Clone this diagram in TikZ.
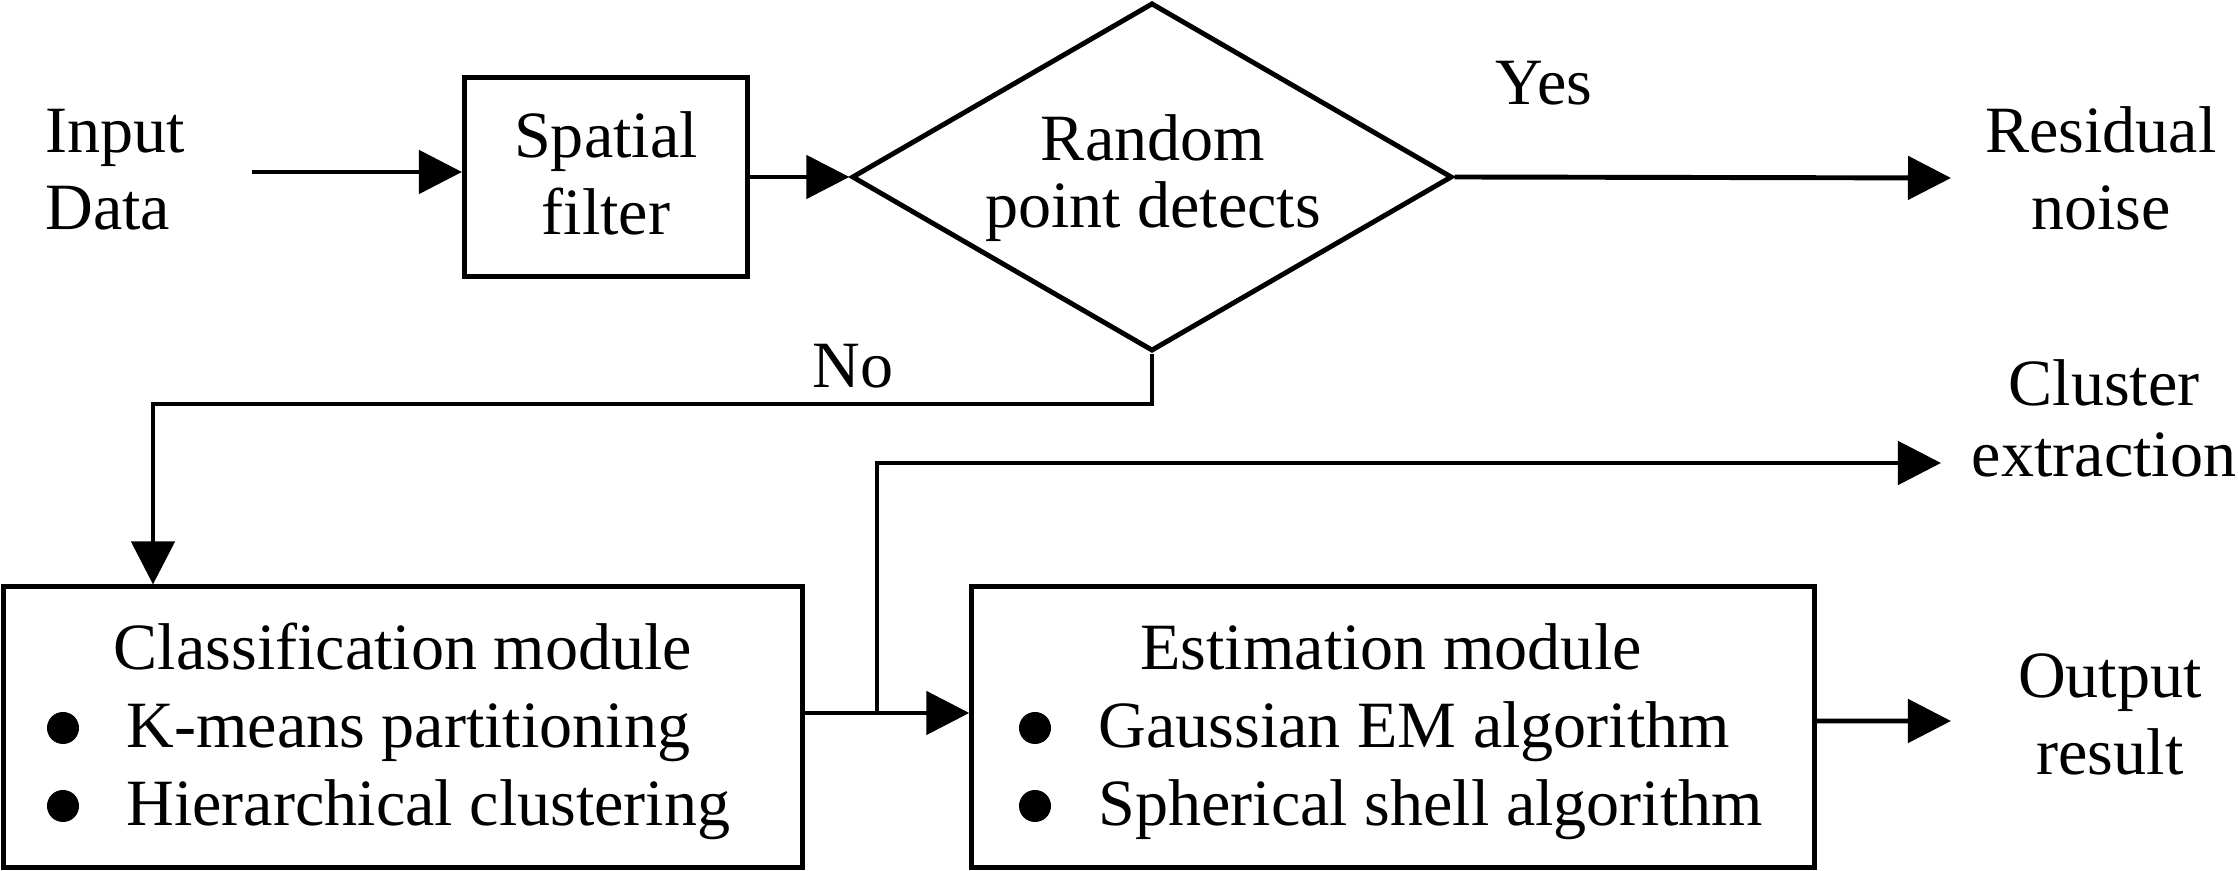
\documentclass[tikz,border=0pt]{standalone}
\usepackage{fontspec}
\setmainfont{Liberation Serif}
\usetikzlibrary{arrows.meta}
\usetikzlibrary{shapes.geometric}
\tikzset{arr/.style = {-{Triangle[length=0.43cm,width=0.43cm]}}}
\tikzset{box/.style = {draw, rectangle, inner sep=0pt}}
\tikzset{txt/.style = {align=center, inner sep=0pt,
                       font=\fontsize{18.8}{22}\selectfont}}
\tikzset{blt/.style = {circle, fill, inner sep=0pt, minimum size=0.32cm}}

\begin{document}
\begin{tikzpicture}[x=0.01cm, y=-0.01cm, line width=1.4pt]
  \useasboundingbox (0,0) rectangle (2238,871);
  % top row
  \node [txt, align=left, anchor=base west] (in) at (43,230) {Input\\Data};
  \node [box, minimum width=2.83cm, minimum height=1.99cm] (sf) at (606,177) {};
  \node [txt, anchor=base] (sftxt) at (606,235) {Spatial\\filter};
  \node [draw, diamond, inner sep=0pt, minimum width=6cm, minimum height=3.48cm] (rpd) at (1152,177) {};
  \node [txt, anchor=base, font=\fontsize{18.8}{19.3}\selectfont] (rpdtxt) at (1153,228) {Random\\point detects};
  \node [txt, anchor=base] (yes) at (1544,105) {Yes};
  \node [txt, anchor=base] (res) at (2101,230) {Residual\\noise};
  \node [txt, anchor=base] (no) at (853,388) {No};
  % modules
  \node [box, minimum width=7.98cm, minimum height=2.8cm] (cls) at (403,727) {};
  \node [txt, anchor=base] (clshead) at (403,670) {Classification module};
  \node [blt] (clsb1) at (63,728) {};
  \node [blt] (clsb2) at (63,806) {};
  \node [txt, anchor=base west] (clsi1) at (124,748) {K-means partitioning};
  \node [txt, anchor=base west] (clsi2) at (124,826) {Hierarchical clustering};
  \node [box, minimum width=8.42cm, minimum height=2.8cm] (est) at (1393,727) {};
  \node [txt, anchor=base] (esthead) at (1391,670) {Estimation module};
  \node [blt] (estb1) at (1035,728) {};
  \node [blt] (estb2) at (1035,806) {};
  \node [txt, anchor=base west] (esti1) at (1096,748) {Gaussian EM algorithm};
  \node [txt, anchor=base west] (esti2) at (1096,826) {Spherical shell algorithm};
  \node [txt, anchor=base, font=\fontsize{18.8}{20.4}\selectfont] (clx) at (2104,477) {Cluster\\extraction};
  \node [txt, anchor=base] (out) at (2110,775) {Output\\result};
  % free ends
  \coordinate (instart) at (252,172);
  \coordinate (restip) at (1951,178);
  \coordinate (nobend) at (153,404);
  \coordinate (br) at (877,713);
  \coordinate (clxtip) at (1941,463);
  \coordinate (outtip) at (1951,721);
  % connectors
  \draw [arr] (instart) -- (instart -| sf.west);
  \draw [arr] (sf.east) -- (rpd.west);
  \draw [arr] (rpd.east) -- (restip);
  \draw [arr] (rpd.south) |- (nobend) -- (nobend |- cls.north);
  \draw [arr] ([yshift=0.14cm]cls.east) -- ([yshift=0.14cm]est.west);
  \draw [arr] (br) |- (clxtip);
  \draw [arr] ([yshift=0.06cm]est.east) -- (outtip);
\end{tikzpicture}
\end{document}
